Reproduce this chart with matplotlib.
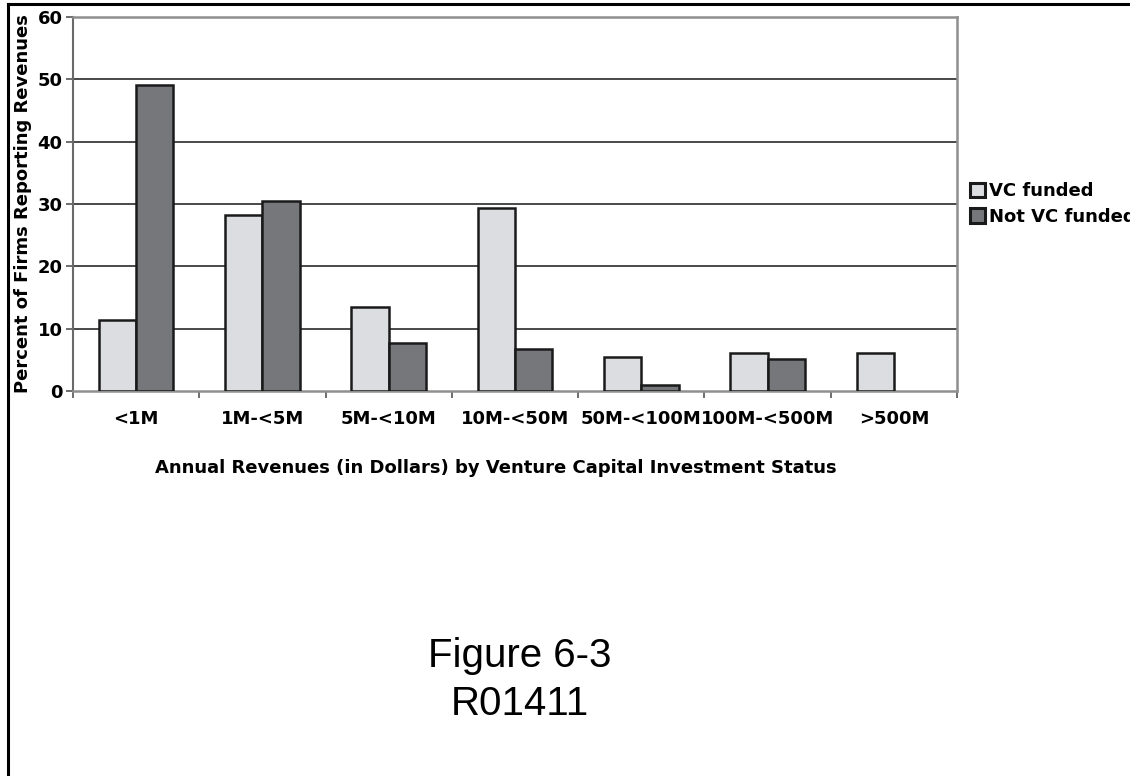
import matplotlib
matplotlib.use("Agg")
import matplotlib.pyplot as plt
from matplotlib.lines import Line2D
import numpy as np

# revenue bands and percent of firms in each
categories = ['<1M', '1M-<5M', '5M-<10M', '10M-<50M', '50M-<100M', '100M-<500M', '>500M']
vc_funded = [11.4, 28.2, 13.5, 29.4, 5.4, 6.1, 6.1]
not_vc_funded = [49.1, 30.5, 7.7, 6.8, 1.0, 5.1, 0.0]
series_names = ['VC funded', 'Not VC funded']
yticks = [0, 10, 20, 30, 40, 50, 60]

light = '#dcdde0'
dark = '#76777b'
edge = '#1a1a1a'
frame = '#8f8f8f'
fs = 13

plt.rcParams['font.family'] = 'DejaVu Sans'
plt.rcParams['font.weight'] = 'bold'

fig = plt.figure(figsize=(11.3, 7.76), dpi=100)
ax = fig.add_axes([73/1130, 1 - 391/776, 884/1130, 374/776])

x = np.arange(len(categories))
w = 0.295
ax.bar(x - w/2, vc_funded, w, color=light, edgecolor=edge, linewidth=1.8,
       label=series_names[0], zorder=3)
bars2 = ax.bar(x + w/2, not_vc_funded, w, color=dark, edgecolor=edge, linewidth=1.8,
               label=series_names[1], zorder=3)
# no outline for empty bars
for b, v in zip(bars2, not_vc_funded):
    if v == 0:
        b.set_visible(False)

ax.set_xlim(-0.5, len(categories) - 0.5)
ax.set_ylim(0, 60)
ax.set_yticks(yticks)
ax.set_yticklabels([str(t) for t in yticks], fontsize=fs, fontweight='bold')
for t in yticks[1:-1]:
    ax.axhline(t, color='#2a2a2a', linewidth=1.2, zorder=1)

ax.set_xticks(x)
ax.set_xticklabels(categories, fontsize=fs, fontweight='bold')
ax.set_xticks(np.arange(-0.5, len(categories)), minor=True)
ax.tick_params(axis='x', which='major', length=0, pad=14)
ax.tick_params(axis='x', which='minor', length=5, width=1.2, color='#555555', direction='out')
ax.tick_params(axis='y', length=5, width=1.2, color='#555555', pad=2.5)

for side in ['top', 'right', 'bottom']:
    ax.spines[side].set_color(frame)
    ax.spines[side].set_linewidth(1.8)
ax.spines['left'].set_color('#6a6a6a')
ax.spines['left'].set_linewidth(1.5)

ax.set_ylabel('Percent of Firms Reporting Revenues', fontsize=fs, fontweight='bold')
ax.yaxis.set_label_coords(-0.046, 0.5)

fig.text(496/1130, 1 - 468/776,
         'Annual Revenues (in Dollars) by Venture Capital Investment Status',
         ha='center', va='center', fontsize=fs, fontweight='bold')

leg = fig.legend(loc='center left', bbox_to_anchor=(970/1130, 1 - 204/776),
                 frameon=False, fontsize=fs, handlelength=0.85, handleheight=0.85,
                 handletextpad=0.2, labelspacing=0.4, borderpad=0, borderaxespad=0)
for h in leg.legend_handles:
    h.set_linewidth(2.2)

fig.text(520/1130, 1 - 656/776, 'Figure 6-3', ha='center', va='center',
         fontsize=29, fontweight='normal', family='Liberation Sans')
fig.text(520/1130, 1 - 704/776, 'R01411', ha='center', va='center',
         fontsize=29, fontweight='normal', family='Liberation Sans')

# page border on left and top
fig.add_artist(Line2D([8/1130, 8/1130], [0, 1 - 4/776], color='black', linewidth=2.2,
                      transform=fig.transFigure))
fig.add_artist(Line2D([8/1130, 1], [1 - 4/776, 1 - 4/776], color='black', linewidth=2.2,
                      transform=fig.transFigure))

fig.savefig('out.png', dpi=100)
